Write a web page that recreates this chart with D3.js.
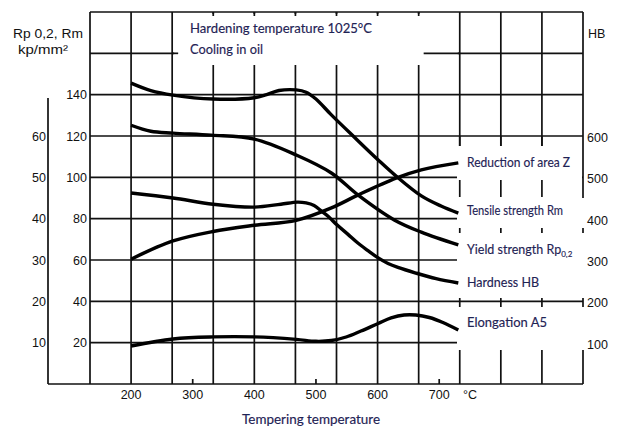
<!DOCTYPE html>
<html>
<head>
<meta charset="utf-8">
<script src="https://cdnjs.cloudflare.com/ajax/libs/d3/7.8.5/d3.min.js"></script>
<style>
  body { margin: 0; background: #fff; }
  svg { display: block; }
  .num { font-family: "Liberation Sans", Arial, sans-serif; font-size: 12.5px; fill: #111; }
  .note { font-family: Lato, "Open Sans", sans-serif; font-size: 12.5px; fill: #1f2355; stroke: #1f2355; stroke-width: 0.15; }
</style>
</head>
<body>
<svg id="chart" width="618" height="427"></svg>
<script>
'use strict';

// tick labels
var tempTicks = [200, 300, 400, 500, 600, 700];
var strengthTicks = [20, 40, 60, 80, 100, 120, 140];
var percentTicks = [10, 20, 30, 40, 50, 60];
var hbTicks = [100, 200, 300, 400, 500, 600];

// curves (tempering temperature in degC)
var tensileT  = [200, 232, 268, 333, 400, 420, 440, 468, 484, 500, 525, 562, 601, 630, 671, 703, 731];
var tensileRm = [145.6, 142, 139.8, 137.9, 138.5, 140, 142, 142.3, 141.2, 137.9, 130.2, 119.5, 108.4, 100.6, 91, 86.1, 82.7];

var yieldT  = [200, 232, 268, 330, 400, 468, 525, 568, 627, 671, 731];
var yieldRp = [125.2, 122.3, 121.4, 120.4, 118.5, 110.8, 102.1, 91.5, 79.4, 73.5, 67.3];

var zT   = [200, 268, 333, 400, 468, 525, 568, 630, 671, 731];
var zPct = [30.2, 34.6, 36.9, 38.4, 39.6, 42.6, 45.7, 49.8, 51.8, 53.5];

var hbT = [200, 268, 333, 400, 443, 470, 484, 497, 510, 521, 534, 552, 568, 585, 601, 617, 633, 662, 695, 731];
var hbV = [462, 450, 435, 428, 435, 440, 438, 431.6, 417, 404, 385, 362, 341, 322, 305, 291.5, 282, 268.5, 255, 244.4];

var a5T   = [200, 268, 333, 400, 468, 500, 525, 549, 573, 601, 622, 643, 662, 684, 706, 731];
var a5Pct = [9.2, 10.9, 11.4, 11.4, 10.8, 10.33, 10.52, 11.37, 12.82, 14.64, 15.97, 16.69, 16.69, 16.09, 14.88, 13.06];

var svg = d3.select('#chart');

var x = d3.scaleLinear().domain([400 / 3, 2800 / 3]).range([90, 583]);
var yS = d3.scaleLinear().domain([0, 180]).range([384, 12]);
var yP = d3.scaleLinear().domain([0, 90]).range([384, 12]);
var yH = d3.scaleLinear().domain([0, 900]).range([384, 12]);

var gridX = d3.range(0, 13).map(function(k) { return 400 / 3 + k * 200 / 3; });
var gridY = d3.range(0, 181, 20);

var grid = svg.append('g').attr('stroke', '#111').attr('stroke-width', 1.7);
grid.selectAll('line.v').data(gridX).enter().append('line')
  .attr('x1', function(d) { return x(d); }).attr('x2', function(d) { return x(d); })
  .attr('y1', yS(180)).attr('y2', yS(0));
grid.selectAll('line.h').data(gridY).enter().append('line')
  .attr('x1', x(gridX[0])).attr('x2', x(gridX[12]))
  .attr('y1', function(d) { return yS(d); }).attr('y2', function(d) { return yS(d); });

// percent axis on the far left, with the bottom border running out to it
grid.append('line').attr('x1', 48).attr('x2', 48).attr('y1', 98).attr('y2', yS(0));
grid.append('line').attr('x1', 48).attr('x2', x(gridX[0])).attr('y1', yS(0)).attr('y2', yS(0));

// white-out behind the heading text
var masks = svg.append('g').attr('fill', '#fff');
masks.append('rect').attr('x', x(gridX[2]) + 2).attr('y', yS(180) + 2)
  .attr('width', x(gridX[9]) - x(gridX[2]) - 4).attr('height', 51);
// white-out behind the curve labels
masks.append('rect').attr('x', 457).attr('y', 146).attr('width', x(gridX[12]) - 458).attr('height', 204);
masks.append('rect').attr('x', x(gridX[12]) - 2).attr('y', 198).attr('width', 6).attr('height', 152);

var stubs = svg.append('g').attr('stroke', '#111').attr('stroke-width', 1.7);
stubs.append('line').attr('x1', x(gridX[2])).attr('x2', x(gridX[2]) + 6).attr('y1', yS(160)).attr('y2', yS(160));
stubs.append('line').attr('x1', x(gridX[8]) + 5).attr('x2', x(gridX[9])).attr('y1', yS(160)).attr('y2', yS(160));
gridX.slice(3, 9).forEach(function(d) {
  stubs.append('line').attr('x1', x(d)).attr('x2', x(d)).attr('y1', yS(180)).attr('y2', yS(180) + 4);
});
stubs.append('line').attr('x1', 457).attr('x2', x(gridX[12])).attr('y1', yS(40)).attr('y2', yS(40));
var dashes = [[136, 146], [180, 197], [228, 233], [298, 307]];
gridX.slice(9).forEach(function(d, i) {
  dashes.forEach(function(s) {
    if (i === 3 && s[0] < 198) { return; }
    stubs.append('line').attr('x1', x(d)).attr('x2', x(d)).attr('y1', s[0]).attr('y2', s[1]);
  });
});

// small ticks on the bottom for the odd hundreds
[300, 500, 700].forEach(function(t) {
  stubs.append('line').attr('x1', x(t)).attr('x2', x(t)).attr('y1', yS(0)).attr('y2', yS(0) - 5);
});

// curves
function drawCurve(ts, vs, yScale) {
  var pts = ts.map(function(t, i) { return [t, vs[i]]; });
  var line = d3.line()
    .x(function(d) { return x(d[0]); })
    .y(function(d) { return yScale(d[1]); })
    .curve(d3.curveCatmullRom.alpha(0.5));
  svg.append('path').datum(pts)
    .attr('d', line)
    .attr('fill', 'none')
    .attr('stroke', '#000')
    .attr('stroke-width', 3.4)
    .attr('stroke-linecap', 'butt');
}
drawCurve(tensileT, tensileRm, yS);
drawCurve(yieldT, yieldRp, yS);
drawCurve(zT, zPct, yP);
drawCurve(hbT, hbV, yH);
drawCurve(a5T, a5Pct, yP);

// tick labels
var labels = svg.append('g');
labels.selectAll('text.t').data(tempTicks).enter().append('text')
  .attr('class', 'num').attr('text-anchor', 'middle')
  .attr('x', function(d) { return x(d); }).attr('y', 399)
  .text(function(d) { return d; });
labels.append('text').attr('class', 'num').attr('x', 463).attr('y', 399).text('°C');

labels.selectAll('text.s').data(strengthTicks).enter().append('text')
  .attr('class', 'num').attr('text-anchor', 'end')
  .attr('x', 87).attr('y', function(d) { return yS(d) + 4.5; })
  .text(function(d) { return d; });

labels.selectAll('text.p').data(percentTicks).enter().append('text')
  .attr('class', 'num').attr('text-anchor', 'end')
  .attr('x', 46).attr('y', function(d) { return yP(d) + 4.5; })
  .text(function(d) { return d; });

labels.selectAll('text.hb').data(hbTicks).enter().append('text')
  .attr('class', 'num')
  .attr('x', 587).attr('y', function(d) { return yH(d) + 6; })
  .text(function(d) { return d; });

labels.append('text').attr('class', 'num').attr('x', 588).attr('y', 38).text('HB');
labels.append('text').attr('class', 'num').attr('x', 13).attr('y', 38)
  .attr('textLength', 70).attr('lengthAdjust', 'spacingAndGlyphs').text('Rp 0,2, Rm');
labels.append('text').attr('class', 'num').attr('x', 18).attr('y', 54)
  .attr('textLength', 50).attr('lengthAdjust', 'spacingAndGlyphs').text('kp/mm²');

// notes
function note(txt, px, py, w) {
  return labels.append('text').attr('class', 'note').attr('x', px).attr('y', py)
    .attr('textLength', w).attr('lengthAdjust', 'spacingAndGlyphs').text(txt);
}
note('Hardening temperature 1025°C', 190, 33, 182);
note('Cooling in oil', 190, 54, 73);
note('Reduction of area Z', 467, 167, 103);
note('Tensile strength Rm', 467, 215, 96);
var ys = labels.append('text').attr('class', 'note').attr('x', 467).attr('y', 254);
ys.append('tspan').text('Yield strength Rp');
ys.append('tspan').attr('dy', 3).attr('font-size', 8).text('0,2');
note('Hardness HB', 467, 287, 72);
note('Elongation A5', 467, 327, 80);
note('Tempering temperature', 242, 424, 138);
</script>
</body>
</html>
